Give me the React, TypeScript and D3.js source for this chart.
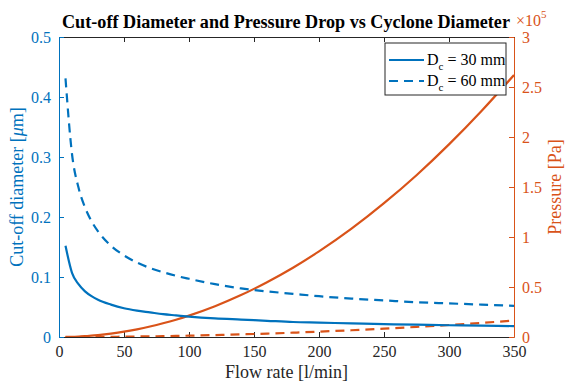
import React, { useEffect, useRef } from 'react';
import * as d3 from 'd3';

// flow rate [l/min]
const flowRates = [5, 10, 15, 20, 25, 30, 40, 50, 60, 70, 80, 90, 100, 120, 140, 160, 180, 200, 225, 250, 275, 300, 325, 350];

// cut-off diameter [um]
const cutoff30 = [0.152, 0.107, 0.088, 0.076, 0.068, 0.062, 0.054, 0.048, 0.044, 0.041, 0.038, 0.036, 0.034, 0.031, 0.029, 0.027, 0.025, 0.024, 0.0227, 0.0215, 0.0205, 0.0196, 0.0189, 0.0182];
const cutoff60 = [0.431, 0.305, 0.249, 0.216, 0.193, 0.176, 0.152, 0.136, 0.124, 0.115, 0.108, 0.102, 0.097, 0.088, 0.081, 0.076, 0.072, 0.068, 0.064, 0.061, 0.058, 0.056, 0.054, 0.052];

// pressure drop [x1e5 Pa]
const pressure30 = [0.0005, 0.002, 0.005, 0.009, 0.013, 0.019, 0.034, 0.053, 0.077, 0.105, 0.137, 0.173, 0.214, 0.308, 0.419, 0.548, 0.693, 0.856, 1.083, 1.338, 1.618, 1.926, 2.26, 2.62];
const pressure60 = [0.00003, 0.0001, 0.0003, 0.0005, 0.0008, 0.0012, 0.0021, 0.0033, 0.0048, 0.0066, 0.0086, 0.0108, 0.0134, 0.0193, 0.0262, 0.0342, 0.0433, 0.0535, 0.0677, 0.0836, 0.101, 0.12, 0.141, 0.164];

const xTicks = [0, 50, 100, 150, 200, 250, 300, 350];
const leftTicks = [0, 0.1, 0.2, 0.3, 0.4, 0.5];
const rightTicks = [0, 0.5, 1, 1.5, 2, 2.5, 3];
const legendLabels = ['30 mm', '60 mm'];

const BLUE = '#0072BD';
const ORANGE = '#D95319';
const FONT = '"Liberation Serif", "Times New Roman", serif';

export default function App() {
    const ref = useRef<SVGSVGElement>(null);

    useEffect(() => {
        const width = 567;
        const height = 383;
        const left = 59;
        const right = 514;
        const top = 37;
        const bottom = 337;

        const svg = d3.select(ref.current);
        svg.selectAll('*').remove();
        svg.attr('width', width).attr('height', height);

        const x = d3.scaleLinear().domain([0, 350]).range([left, right]);
        const yL = d3.scaleLinear().domain([0, 0.5]).range([bottom, top]);
        const yR = d3.scaleLinear().domain([0, 3]).range([bottom, top]);

        svg.append('rect')
            .attr('width', width)
            .attr('height', height)
            .attr('fill', 'white');

        svg.append('clipPath')
            .attr('id', 'plotclip')
            .append('rect')
            .attr('x', left)
            .attr('y', top)
            .attr('width', right - left)
            .attr('height', bottom - top);

        // axes
        const styleAxis = (g: any, color: string) => {
            g.select('.domain').attr('stroke', color).attr('stroke-width', 1);
            g.selectAll('.tick line').attr('stroke', color);
            g.selectAll('.tick text')
                .attr('fill', color)
                .style('font-family', FONT)
                .style('font-size', '16px');
        };

        svg.append('g')
            .attr('transform', `translate(0,${bottom})`)
            .call(d3.axisBottom(x).tickValues(xTicks).tickSizeInner(-5).tickSizeOuter(0).tickPadding(9))
            .call((g: any) => styleAxis(g, '#262626'));

        svg.append('g')
            .attr('transform', `translate(0,${top})`)
            .call(d3.axisTop(x).tickValues(xTicks).tickSizeInner(-5).tickSizeOuter(0).tickFormat(() => ''))
            .call((g: any) => styleAxis(g, '#262626'));

        svg.append('g')
            .attr('transform', `translate(${left},0)`)
            .call(d3.axisLeft(yL).tickValues(leftTicks).tickSizeInner(-5).tickSizeOuter(0).tickPadding(8)
                .tickFormat((d: any) => (d === 0 ? '0' : d3.format('.1f')(d))))
            .call((g: any) => styleAxis(g, BLUE));

        svg.append('g')
            .attr('transform', `translate(${right},0)`)
            .call(d3.axisRight(yR).tickValues(rightTicks).tickSizeInner(-5).tickSizeOuter(0).tickPadding(8)
                .tickFormat((d: any) => d3.format('~g')(d)))
            .call((g: any) => styleAxis(g, ORANGE));

        // curves
        const plot = svg.append('g').attr('clip-path', 'url(#plotclip)');
        const lineL = d3.line<number>()
            .x((d, i) => x(flowRates[i]))
            .y((d) => yL(d))
            .curve(d3.curveMonotoneX);
        const lineR = d3.line<number>()
            .x((d, i) => x(flowRates[i]))
            .y((d) => yR(d))
            .curve(d3.curveMonotoneX);

        const series = [
            { data: pressure30, gen: lineR, color: ORANGE, dash: null },
            { data: pressure60, gen: lineR, color: ORANGE, dash: '9,6' },
            { data: cutoff30, gen: lineL, color: BLUE, dash: null },
            { data: cutoff60, gen: lineL, color: BLUE, dash: '9,6' },
        ];
        series.forEach((s) => {
            plot.append('path')
                .attr('d', s.gen(s.data))
                .attr('fill', 'none')
                .attr('stroke', s.color)
                .attr('stroke-width', 2.2)
                .attr('stroke-dasharray', s.dash);
        });

        // title
        svg.append('text')
            .attr('x', 62)
            .attr('y', 28)
            .attr('textLength', 448)
            .attr('lengthAdjust', 'spacingAndGlyphs')
            .style('font-family', FONT)
            .style('font-size', '18px')
            .style('font-weight', 'bold')
            .attr('fill', 'black')
            .text('Cut-off Diameter and Pressure Drop vs Cyclone Diameter');

        // exponent label
        const expo = svg.append('text')
            .attr('x', 516)
            .attr('y', 26)
            .style('font-family', FONT)
            .style('font-size', '16px')
            .attr('fill', ORANGE);
        expo.append('tspan').text('×10');
        expo.append('tspan').attr('dy', -8).style('font-size', '11px').text('5');

        // axis labels
        svg.append('text')
            .attr('x', (left + right) / 2)
            .attr('y', 378)
            .attr('text-anchor', 'middle')
            .style('font-family', FONT)
            .style('font-size', '18px')
            .attr('fill', '#262626')
            .text('Flow rate [l/min]');

        const yl = svg.append('text')
            .attr('transform', `translate(23,${(top + bottom) / 2}) rotate(-90)`)
            .attr('text-anchor', 'middle')
            .style('font-family', FONT)
            .style('font-size', '18px')
            .attr('fill', BLUE);
        yl.append('tspan').text('Cut-off diameter [');
        yl.append('tspan').style('font-style', 'italic').text('μ');
        yl.append('tspan').text('m]');

        svg.append('text')
            .attr('transform', `translate(561,${(top + bottom) / 2}) rotate(-90)`)
            .attr('text-anchor', 'middle')
            .style('font-family', FONT)
            .style('font-size', '18px')
            .attr('fill', ORANGE)
            .text('Pressure [Pa]');

        // legend
        const lg = svg.append('g').attr('transform', 'translate(385,43)');
        lg.append('rect')
            .attr('width', 121)
            .attr('height', 52)
            .attr('fill', 'white')
            .attr('stroke', '#262626')
            .attr('stroke-width', 1);
        legendLabels.forEach((lab, i) => {
            const yy = 17 + i * 21;
            lg.append('line')
                .attr('x1', 4)
                .attr('x2', 39)
                .attr('y1', yy)
                .attr('y2', yy)
                .attr('stroke', BLUE)
                .attr('stroke-width', 2.2)
                .attr('stroke-dasharray', i === 1 ? '9,6' : null);
            const t = lg.append('text')
                .attr('x', 42)
                .attr('y', yy + 5)
                .style('font-family', FONT)
                .style('font-size', '16px')
                .attr('fill', 'black');
            t.append('tspan').text('D');
            t.append('tspan').attr('dy', 5).style('font-size', '11px').text('c');
            t.append('tspan').attr('dy', -5).text(` = ${lab}`);
        });
    }, []);

    return (
        <svg ref={ref} style={{ position: 'absolute', left: 0, top: 0 }} />
    );
}
